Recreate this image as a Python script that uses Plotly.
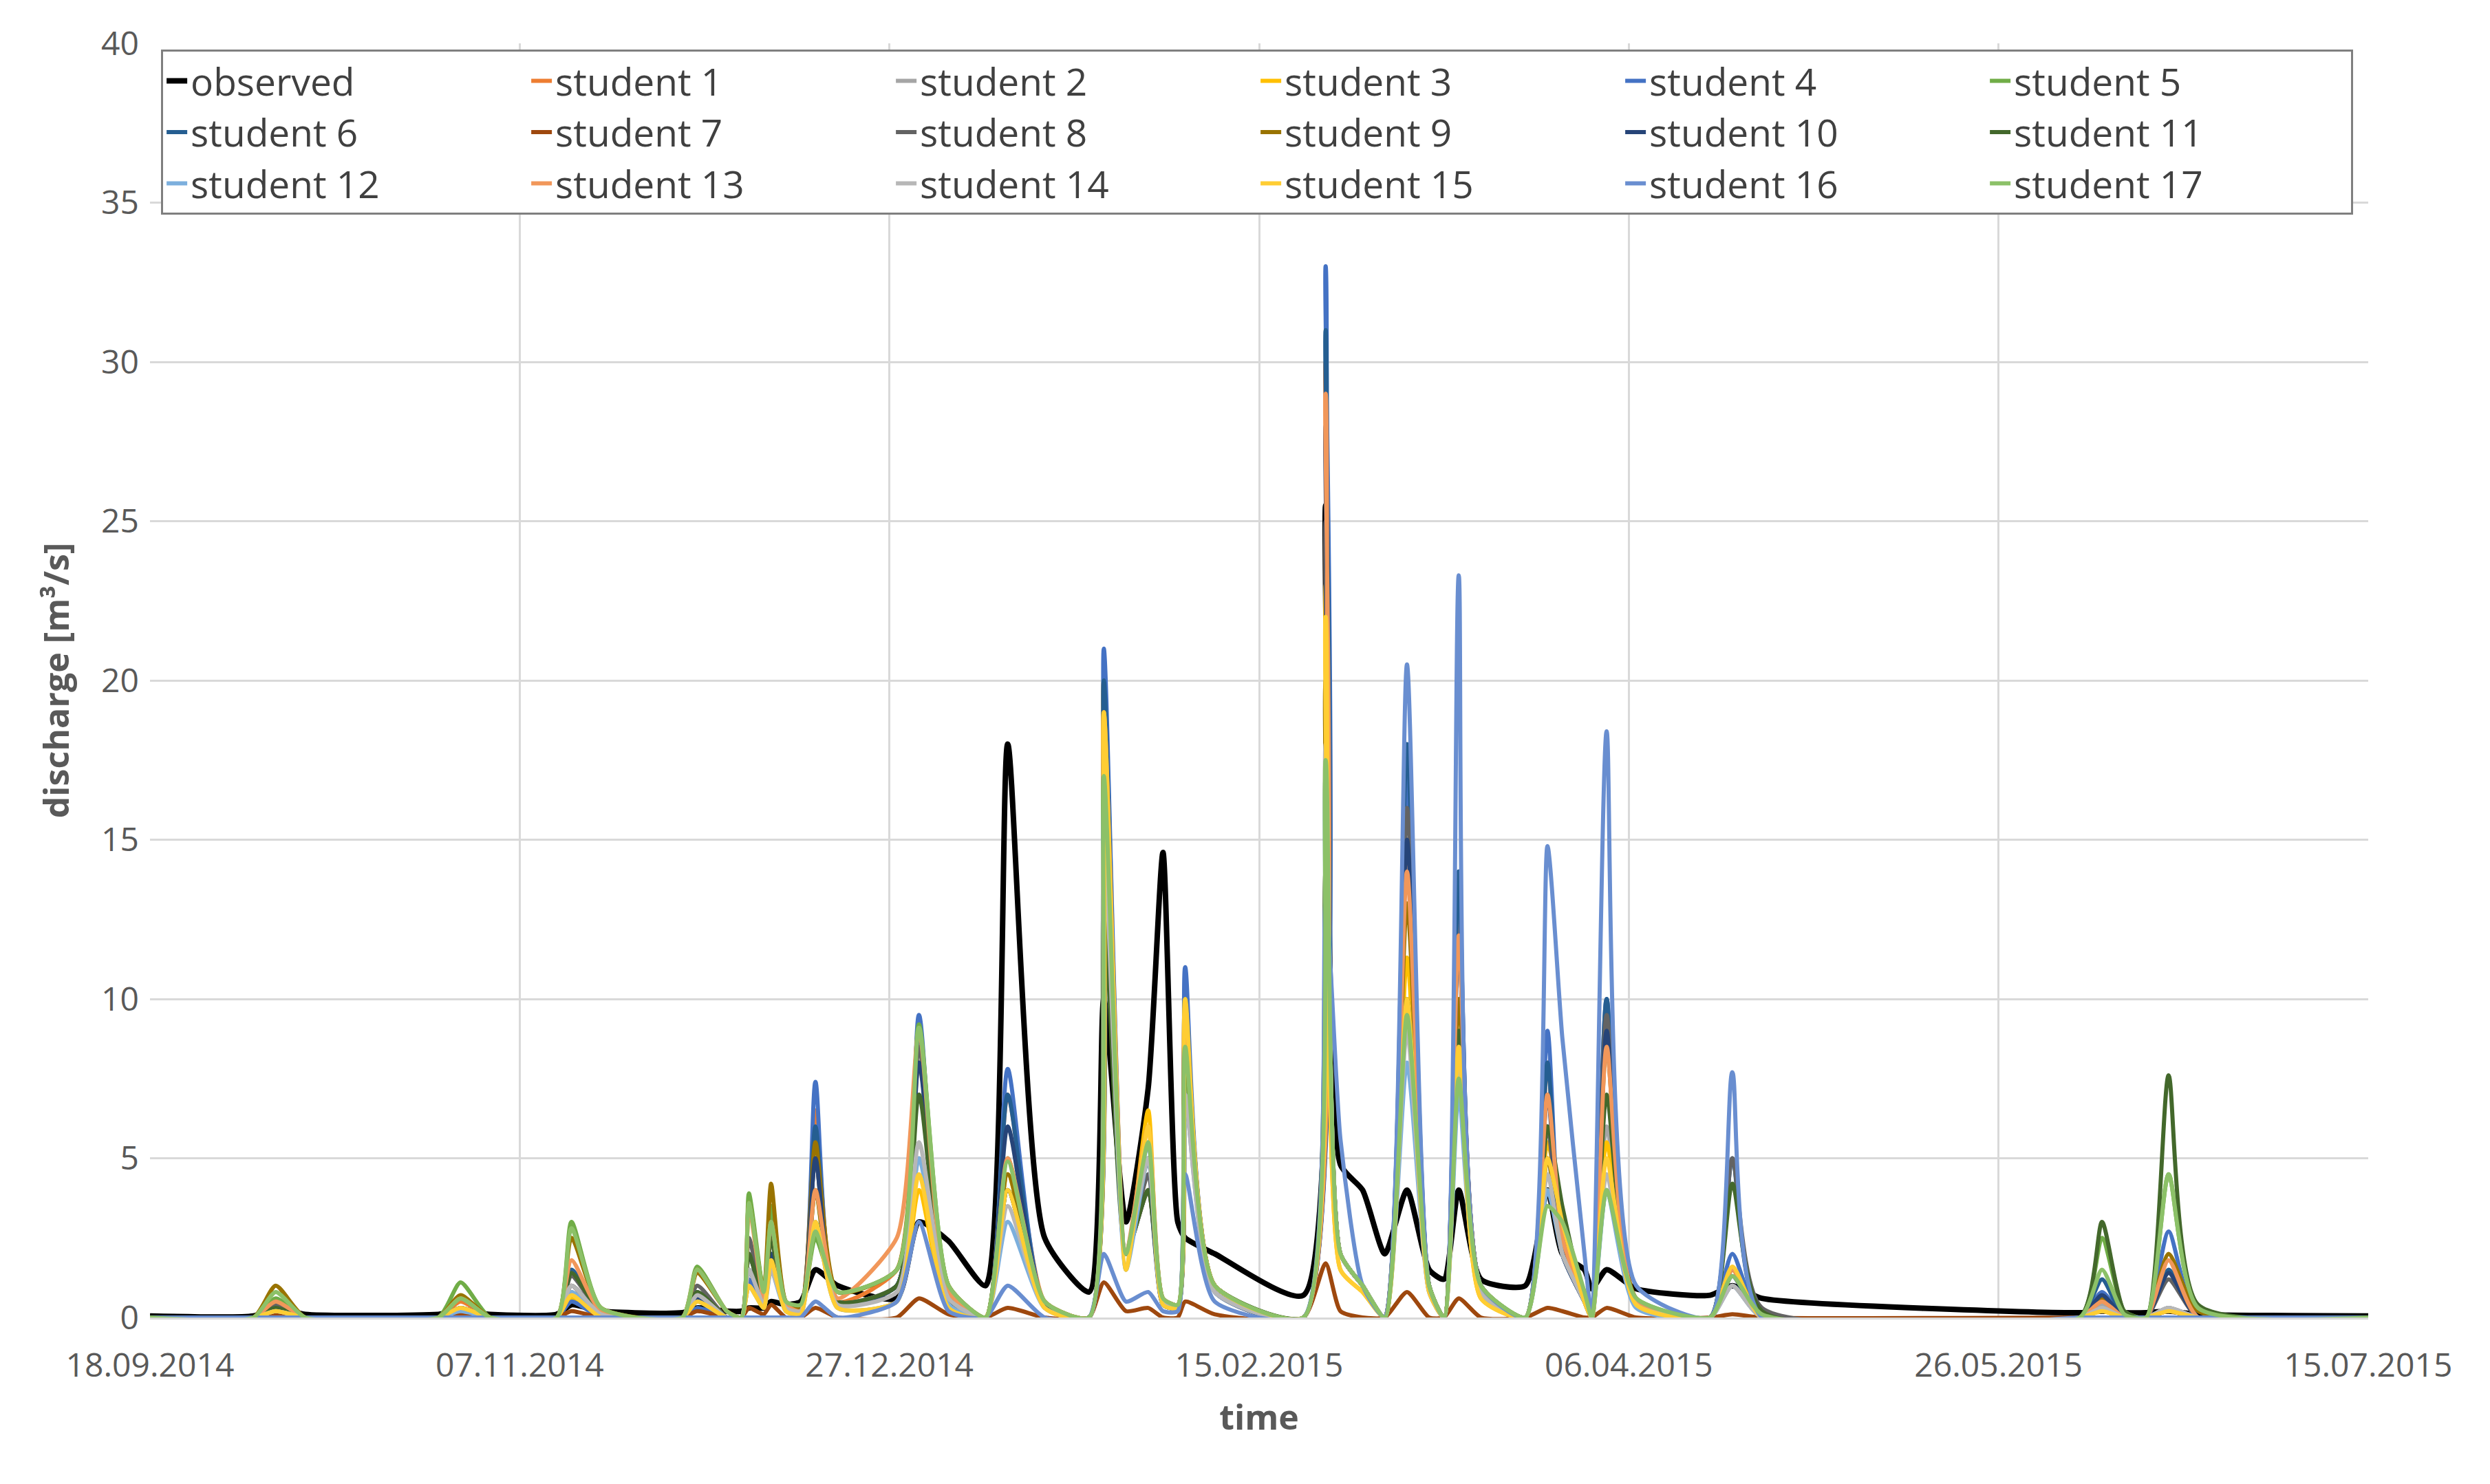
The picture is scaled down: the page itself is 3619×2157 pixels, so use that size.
import pandas as pd
import plotly.graph_objects as go

start = pd.Timestamp("2014-09-18")
day_offsets = [0,14,17,21, 39,42,46, 55,57,61, 72,74,78, 80,81,83,84,86, 88,90,93, 101,104,108,
               113,116,121, 127,129,132,135,137,139,140,144, 156,159,161,164, 167,170,173,
               175,177,180, 186,189,191,194, 195,197,201, 211,214,218, 261,264,267, 270,273,277, 300]

observed = [0.05,0.05,0.3,0.1, 0.1,0.2,0.1, 0.1,0.4,0.2, 0.15,0.3,0.2, 0.2,0.3,0.3,0.5,0.4, 0.5,1.5,1.0,
            0.6,3,2.4, 1.0,18,2.5, 0.8,10,3,7.2,14.6,3,2.5,2.0, 0.7,25.5,4.8,4.0, 2,4,1.5,
            1.2,4,1.2, 1.0,4,2,1.5, 0.9,1.5,0.9, 0.7,1.0,0.6, 0.15,0.2,0.15, 0.15,0.2,0.1, 0.05]

students = [
 [0,0,0.3,0, 0,0.5,0, 0,1.0,0.1, 0,0.8,0, 0,2,0.5,3.5,0.3, 0.3,6.5,0.5, 1.5,9.2,0.8, 0,7,0.5, 0,20,2,4,0.5,0.3,9.8,1, 0,30,2,1, 0,15,1, 0,13,1, 0,8,2,0.5, 0,9,0.5, 0,1.5,0, 0,0.5,0, 0,0.3,0, 0],
 [0,0,0.2,0, 0,0.3,0, 0,0.8,0, 0,0.5,0, 0,1.5,0.4,2.5,0.3, 0.2,5,0.5, 1,5,0.8, 0,4,0.4, 0,15,2,5,0.5,0.3,8,1, 0,20,2,1, 0,10,0.8, 0,9,0.8, 0,5,2,0.5, 0,6,0.5, 0,1,0, 0,0.4,0, 0,0.3,0, 0],
 [0,0,0.2,0, 0,0.3,0, 0,0.6,0, 0,0.5,0, 0,1,0.3,2,0.2, 0.1,4,0.3, 0.5,4,0.3, 0,4.5,0.3, 0,20,1.5,6.5,0.4,0.3,10,1, 0,23,1.5,0.8, 0,11.3,0.8, 0,9,0.6, 0,5.5,3,0.5, 0,5.5,0.4, 0,1.5,0, 0,0.2,0, 0,0.2,0, 0],
 [0,0,0.1,0, 0,0.2,0, 0,0.5,0, 0,0.3,0, 0,1.2,0.3,2,0.2, 0.2,7.4,0.5, 1,9.5,0.6, 0,7.8,0.4, 0,21,2,5.5,0.4,0.3,11,1, 0,33,2,1, 0,17,1, 0,14,1, 0,9,2,0.5, 0,10,0.5, 0,2,0, 0,0.8,0, 0,2.7,0, 0],
 [0,0,0.6,0, 0,1.1,0, 0,3,0.3, 0,1.6,0.2, 0,3.9,0.8,3.5,0.5, 0.3,2.5,0.8, 1.5,9.2,1, 0,5,0.5, 0,17,2,5,0.6,0.4,8,1, 0,17,2,1, 0,9.5,1, 0,7.5,1, 0,4,2.5,0.8, 0,4,0.6, 0,1.5,0.1, 0,2.5,0.2, 0,4.5,0.3, 0],
 [0,0,0.3,0, 0,0.2,0, 0,1.5,0.2, 0,0.8,0, 0,2,0.5,3,0.3, 0.2,6,0.5, 1,9,0.6, 0,7,0.4, 0,20,2,5,0.4,0.3,10,1, 0,31,2,1, 0,18,1, 0,14,1, 0,8,2,0.5, 0,10,0.5, 0,5,0, 0,1.2,0, 0,1.5,0, 0],
 [0,0,0.1,0, 0,0.1,0, 0,0.2,0, 0,0.2,0, 0,0.3,0.1,0.4,0, 0,0.3,0, 0,0.6,0.1, 0,0.3,0, 0,1.1,0.2,0.3,0,0,0.5,0.1, 0,1.7,0.2,0, 0,0.8,0, 0,0.6,0, 0,0.3,0.2,0, 0,0.3,0, 0,0.1,0, 0,0,0, 0,0.2,0, 0],
 [0,0,0.4,0, 0,0.6,0, 0,1.3,0.2, 0,1,0, 0,2.5,0.5,3,0.4, 0.2,5,0.5, 1,8.5,0.8, 0,4,0.4, 0,14,2,4.5,0.5,0.3,9,1, 0,25,2,1, 0,16,1, 0,12,1, 0,6,2,0.5, 0,9.5,0.5, 0,5,0.3, 0,0.6,0, 0,1.2,0, 0],
 [0,0,1.0,0, 0,0.7,0, 0,2.5,0.3, 0,1.4,0.2, 0,3.6,0.8,4.2,0.5, 0.3,5.5,0.8, 1.5,8,1, 0,4.5,0.5, 0,16,2,5,0.6,0.4,8.5,1, 0,20,2,1, 0,13,1, 0,10,1, 0,5,2.5,0.8, 0,8.5,0.6, 0,1.5,0.1, 0,0.6,0, 0,2,0.2, 0],
 [0,0,0.2,0, 0,0.3,0, 0,1,0.1, 0,0.6,0, 0,1.5,0.4,2,0.3, 0.2,5,0.4, 1,8,0.6, 0,6,0.4, 0,18,2,4,0.4,0.3,9,0.8, 0,28,2,1, 0,15,1, 0,12,1, 0,7,2,0.5, 0,9,0.4, 0,1.3,0, 0,0.7,0, 0,1.4,0, 0],
 [0,0,0.3,0, 0,0.3,0, 0,1.4,0.2, 0,0.8,0, 0,2,0.5,2.5,0.3, 0.2,4,0.5, 1,7,0.6, 0,4,0.4, 0,13,2,4,0.5,0.3,7,1, 0,14,2,1, 0,10,1, 0,9,1, 0,6,3.5,0.5, 0,7,0.5, 0,4.2,0.2, 0,3,0.2, 0,7.6,0.4, 0],
 [0,0,0.2,0, 0,0.2,0, 0,0.8,0, 0,0.5,0, 0,1,0.3,1.5,0.2, 0.1,3,0.3, 0.5,5,0.4, 0,3,0.3, 0,16,1.5,5,0.4,0.3,7,0.8, 0,17,2,1, 0,8,0.8, 0,7,0.7, 0,4,2,0.5, 0,4,0.3, 0,1,0, 0,0.3,0, 0,0.3,0, 0],
 [0,0,0.5,0, 0,0.6,0, 0,1.8,0.2, 0,1.5,0.2, 0,3.5,0.6,3,0.4, 0.2,4,0.6, 2.5,9,0.8, 0,5,0.5, 0,19,2,6,0.6,0.4,9.5,1, 0,29,2,1, 0,14,1, 0,12,1, 0,7,2.5,0.5, 0,8.5,0.5, 0,1.5,0, 0,0.5,0, 0,1.8,0, 0],
 [0,0,0.2,0, 0,0.3,0, 0,1,0.1, 0,0.7,0, 0,1.5,0.4,1.5,0.3, 0.2,3,0.4, 0.8,5.5,0.6, 0,3.5,0.3, 0,15,2,5,0.5,0.3,7,0.8, 0,18,2,1, 0,9,0.8, 0,8,0.8, 0,4.5,2,0.5, 0,4.5,0.4, 0,1,0, 0,0.3,0, 0,0.3,0, 0],
 [0,0,0.2,0, 0,0.3,0, 0,0.7,0, 0,0.5,0, 0,1,0.3,1.8,0.2, 0.1,3,0.3, 0.5,4.5,0.3, 0,4,0.3, 0,19,1.5,6,0.4,0.3,10,1, 0,22,1.5,0.8, 0,10,0.8, 0,8.5,0.6, 0,5,3,0.5, 0,5,0.4, 0,1.6,0, 0,0.2,0, 0,0.2,0, 0],
 [0,0,0,0, 0,0,0, 0,0,0, 0,0,0, 0,0,0,0,0, 0,0.5,0, 0.5,3,0.2, 0,1,0, 0,2,0.5,0.8,0.2,0.2,4.5,0.5, 0,13,5.6,1, 0,20.5,1, 0,23.3,1, 0,14.8,8.8,2, 0,18.4,1, 0,7.7,0, 0,0,0, 0,0,0, 0],
 [0,0,0.8,0, 0,0.6,0, 0,2.8,0.3, 0,1.5,0.2, 0,3.6,0.8,3,0.5, 0.4,2.7,0.8, 1.5,9.1,1, 0,4.9,0.5, 0,17,2,5.5,0.6,0.4,8.5,1, 0,17.5,2,1, 0,9.5,1, 0,7.5,1, 0,3.5,3,0.8, 0,4,0.6, 0,1.3,0.1, 0,1.5,0.1, 0,4.5,0.3, 0],
]
student_names = [f"student {i}" for i in range(1, 18)]
colors = ["#ED7D31","#A5A5A5","#FFC000","#4472C4","#70AD47","#255E91","#9E480E","#636363",
          "#997300","#264478","#43682B","#7CAFDD","#F1975A","#B7B7B7","#FFCD33","#698ED0","#8CC168"]

tick_days = [0, 50, 100, 150, 200, 250, 300]

dates = [start + pd.Timedelta(days=d) for d in day_offsets]
for s in students:
    assert len(s) == len(dates), len(s)

fig = go.Figure()
fig.add_trace(go.Scatter(x=dates, y=observed, name="observed", mode="lines",
                         line=dict(color="black", width=8, shape="spline", smoothing=0.6)))
for name, vals, c in zip(student_names, students, colors):
    fig.add_trace(go.Scatter(x=dates, y=vals, name=name, mode="lines",
                             line=dict(color=c, width=6, shape="spline", smoothing=0.6)))

tickvals = [start + pd.Timedelta(days=d) for d in tick_days]
font = "Open Sans"
fig.update_layout(
    width=3619, height=2157, plot_bgcolor="white", paper_bgcolor="white",
    margin=dict(l=210, r=185, t=55, b=250),
    font=dict(family=font, size=48, color="#595959"),
    legend=dict(orientation="h", x=0.005, y=0.995, xanchor="left", yanchor="top",
                entrywidth=485, entrywidthmode="pixels", bgcolor="white",
                bordercolor="#7F7F7F", borderwidth=3,
                font=dict(size=55, color="#404040", family=font), tracegroupgap=0),
    xaxis=dict(range=[start, start + pd.Timedelta(days=300)], tickvals=tickvals,
               ticktext=[t.strftime("%d.%m.%Y") for t in tickvals],
               showgrid=True, gridcolor="#D9D9D9", gridwidth=3, showline=True,
               linecolor="#D9D9D9", linewidth=3, zeroline=False, ticklabelstandoff=25,
               title=dict(text="<b>time</b>", font=dict(size=50, color="#595959"), standoff=30),
               tickfont=dict(size=48, color="#595959"), ticklen=0),
    yaxis=dict(range=[0, 40], dtick=5, showgrid=True, gridcolor="#D9D9D9", gridwidth=3,
               zeroline=False, showline=False, ticklabelstandoff=15,
               title=dict(text="<b>discharge [m³/s]</b>", font=dict(size=50, color="#595959"), standoff=30),
               tickfont=dict(size=48, color="#595959")),
)
fig.write_html("out.html")
